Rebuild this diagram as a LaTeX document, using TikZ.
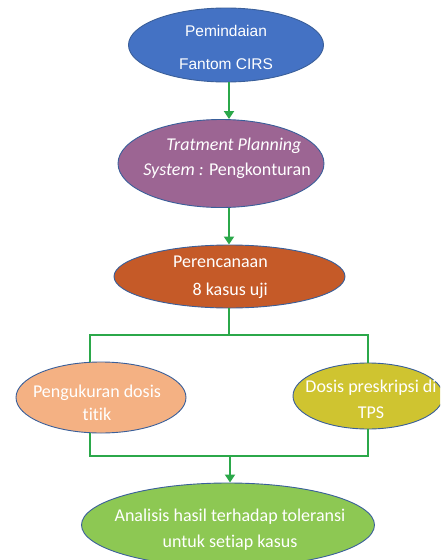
\documentclass[tikz,border=0pt]{standalone}
\usepackage{fontspec}
\setmainfont{Carlito}[Ligatures={NoCommon}]
\newfontfamily\arialfont{Liberation Sans}
\usetikzlibrary{shapes.geometric,arrows.meta}
\definecolor{flowgreen}{HTML}{2BA84A}
\definecolor{rimblue}{HTML}{3A5F9A}
\definecolor{scanblue}{HTML}{4472C4}
\definecolor{tpspurple}{HTML}{9C6593}
\definecolor{planorange}{HTML}{C55A28}
\definecolor{measpeach}{HTML}{F4B183}
\definecolor{presolive}{HTML}{CFC430}
\definecolor{anagreen}{HTML}{8DC853}
\tikzset{
  oval/.style={ellipse, draw=rimblue, line width=0.9pt, inner sep=0pt},
  ovaltext/.style={text=white, inner sep=0pt, font=\fontsize{18}{25}\selectfont},
  flow/.style={draw=flowgreen, line width=2.8pt},
  flowarrow/.style={flow, -{Triangle[width=10pt,length=8pt]}},
}
\begin{document}
\begin{tikzpicture}[x=1pt,y=-1pt]
\clip (0,0) rectangle (440,560);
\fill[white] (0,0) rectangle (440,560);

% process ovals
\node[oval, fill=scanblue,   minimum width=195pt, minimum height=74pt] (n1) at (226,45) {};
\node[oval, fill=tpspurple,  minimum width=206pt, minimum height=88pt] (n2) at (221,163.5) {};
\node[oval, fill=planorange, minimum width=231pt, minimum height=63pt] (n3) at (229.5,276.5) {};
\node[oval, fill=measpeach,  minimum width=170pt, minimum height=71pt] (n4) at (101,397.5) {};
\node[oval, fill=presolive,  minimum width=150pt, minimum height=66pt] (n5) at (368,396) {};
\node[oval, fill=anagreen,   minimum width=293pt, minimum height=84pt] (n6) at (228,525) {};

% labels
\node[ovaltext, font=\arialfont\fontsize{15.5}{33}\selectfont, align=center] (t1) at (226,47)
  {Pemindaian\\Fantom CIRS};
\node[ovaltext, align=left] (t2) at (227,158)
  {\hspace*{23pt}\textit{Tratment Planning}\\\textit{System :} Pengkonturan};
\node[ovaltext, font=\fontsize{18}{28}\selectfont, align=right] (t3) at (220.5,277)
  {Perencanaan\\8 kasus uji};
\node[ovaltext, font=\fontsize{18}{23}\selectfont, align=center] (t4) at (97,403)
  {Pengukuran dosis\\titik};
\node[ovaltext, font=\fontsize{18}{26}\selectfont, align=center] (t5) at (371,399)
  {Dosis preskripsi di\\TPS};
\node[ovaltext, font=\fontsize{18}{26}\selectfont, align=center] (t6) at (230,530)
  {Analisis hasil terhadap toleransi\\untuk setiap kasus};

% junction points of the connector bars
\coordinate (split)  at (229,335);
\coordinate (splitL) at (90,335);
\coordinate (splitR) at (368,335);
\coordinate (joinL)  at (90,456);
\coordinate (joinR)  at (368,456);
\coordinate (join)   at (230,456);

% connectors
\draw[flowarrow] (n1.south -| split) -- (n2.north -| split);
\draw[flowarrow] (n2.south -| split) -- (n3.north -| split);
\draw[flow] (n3.south -| split) -- (split);
\draw[flow] (n4.north -| splitL) -- (splitL) -- (splitR) -- (n5.north -| splitR);
\draw[flow] (n4.south -| joinL) -- (joinL) -- (joinR) -- (n5.south -| joinR);
\draw[flowarrow] (join) -- (join |- n6.north);
\end{tikzpicture}
\end{document}
